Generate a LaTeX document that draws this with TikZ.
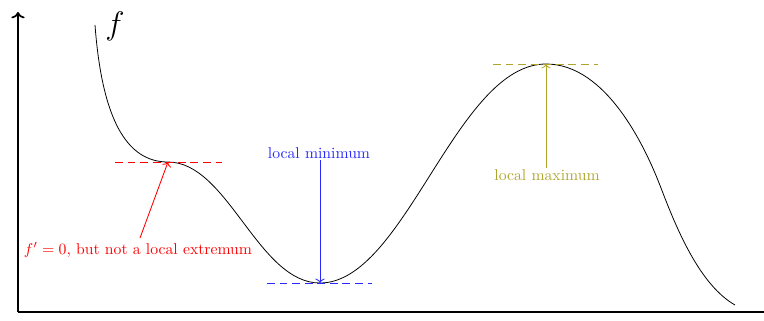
\documentclass[tikz,border=0pt]{standalone}
\usetikzlibrary{arrows.meta}
\definecolor{maxcol}{RGB}{175,165,45}
\definecolor{mincol}{RGB}{40,40,255}
\begin{document}
\begin{tikzpicture}[x={(0.6366pt,0)},y={(0,-0.6366pt)},
  axis/.style={line width=1.1pt},
  curve/.style={line width=0.5pt},
  tangent/.style={dash pattern=on 5pt off 3pt,line width=0.6pt},
  pointer/.style={->,line width=0.55pt},
  lbl/.style={inner sep=1pt,font=\normalsize}]
\useasboundingbox (0,0) rectangle (764,320);
% axes
\coordinate (O) at (18,312);
\coordinate (ytop) at (18,12);
\coordinate (xend) at (764,312);
\draw[axis,->] (O) -- (ytop);
\draw[axis] (O) -- (xend);
% curve
\coordinate (s) at (95,25);
\coordinate (p1) at (168,162);
\coordinate (p2) at (320,283);
\coordinate (p3) at (546,64);
\coordinate (q) at (661,188);
\coordinate (e) at (735,305);
\draw[curve] (s) .. controls (102,118) and (126,162) .. (p1)
  .. controls (228,162) and (258,283) .. (p2)
  .. controls (405,283) and (456,64) .. (p3)
  .. controls (606,64) and (645,146) .. (q)
  .. controls (677,230) and (700,285) .. (e);
\node[lbl,font=\huge] (flabel) at (115,26) {$f$};
% saddle point
\coordinate (r1) at (115,162);
\coordinate (r2) at (222,162);
\draw[tangent,draw=red] (r1) -- (r2);
\node[lbl,red] (rtext) at (138,250) {$f'=0$, but not a local extremum};
\coordinate (rstart) at (140,238);
\draw[pointer,red] (rstart) -- (p1);
% minimum
\coordinate (b1) at (267,283.6);
\coordinate (b2) at (372,283.6);
\draw[tangent,draw=mincol,line width=0.7pt] (b1) -- (b2);
\node[lbl,mincol] (btext) at (319,153) {local minimum};
\draw[pointer,mincol] (btext.south -| p2) -- (p2);
% maximum
\coordinate (o1) at (493,64);
\coordinate (o2) at (598,64);
\draw[tangent,draw=maxcol] (o1) -- (o2);
\node[lbl,maxcol] (otext) at (547,175) {local maximum};
\draw[pointer,maxcol] (otext.north -| p3) -- (p3);
\end{tikzpicture}
\end{document}
